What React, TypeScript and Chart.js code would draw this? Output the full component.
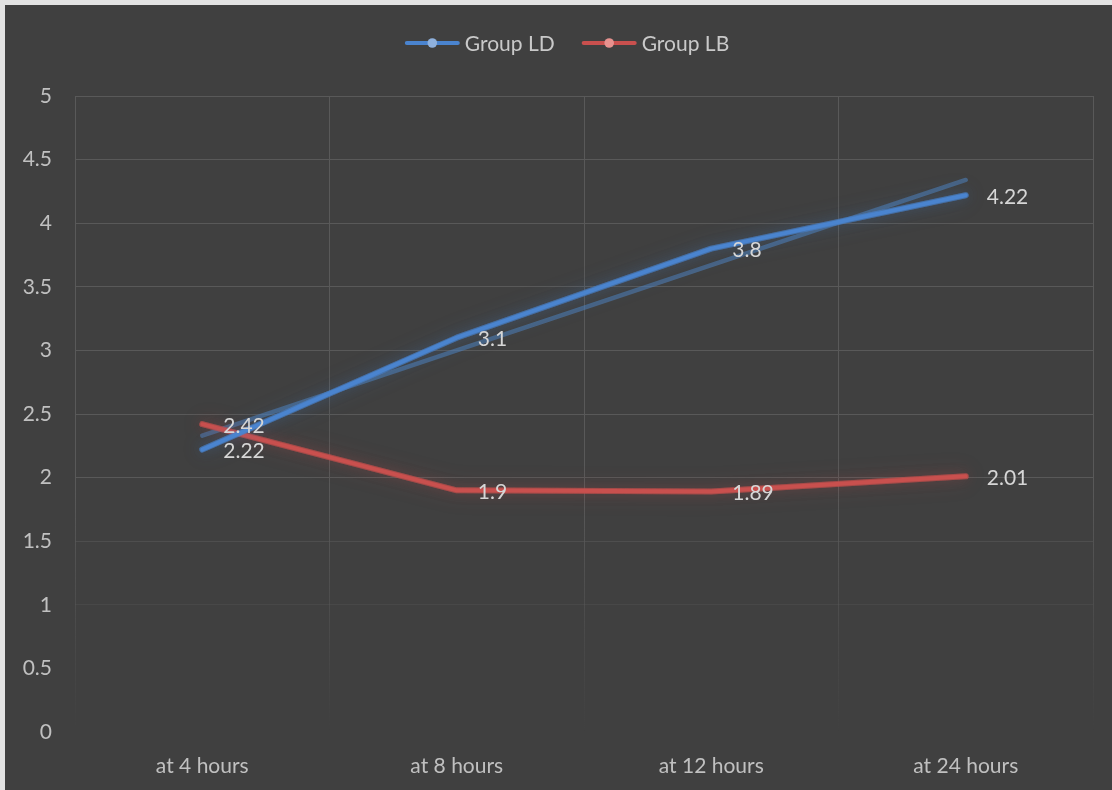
import React, { useEffect, useRef } from "react";
import { Chart, registerables } from "chart.js";

Chart.register(...registerables);

// Chart data
const categories = ["at 4 hours", "at 8 hours", "at 12 hours", "at 24 hours"];
const seriesNames = ["Group LD", "Group LB"];
const groupLD = [2.22, 3.1, 3.8, 4.22];
const groupLB = [2.42, 1.9, 1.89, 2.01];
const yTicks = [0, 0.5, 1, 1.5, 2, 2.5, 3, 3.5, 4, 4.5, 5];

// Least-squares linear trendline over the category positions 1..n
function linearTrend(values: number[]): number[] {
  const n = values.length;
  const xs = values.map((_, i) => i + 1);
  const mx = xs.reduce((a, b) => a + b, 0) / n;
  const my = values.reduce((a, b) => a + b, 0) / n;
  let sxy = 0;
  let sxx = 0;
  xs.forEach((x, i) => {
    sxy += (x - mx) * (values[i] - my);
    sxx += (x - mx) * (x - mx);
  });
  const slope = sxy / sxx;
  const icpt = my - slope * mx;
  return xs.map((x) => icpt + slope * x);
}

const FONT = "Lato, 'Open Sans', sans-serif";
const FONT_SIZE = 21;
const BG = "#404040";
const GRID = "#595959";
const BLUE = "#4a84cf";
const RED = "#c9504e";
const BLUE_MARK = "#8fb1dd";
const RED_MARK = "#e7928f";

const W = 1107;
const H = 785;

// Soft glow under the main series: the line path is stroked with a wide
// shadow before Chart.js draws the line itself.
const glowPlugin = {
  id: "glow",
  beforeDatasetDraw(chart: any, args: any) {
    const ds = chart.data.datasets[args.index];
    if (!ds.glowColor) return;
    const pts = chart.getDatasetMeta(args.index).data;
    const ctx = chart.ctx;
    ctx.save();
    ctx.shadowColor = ds.glowColor;
    ctx.strokeStyle = ds.glowColor;
    ctx.lineWidth = 6;
    ctx.lineCap = "round";
    ctx.lineJoin = "round";
    [22, 12].forEach((blur) => {
      ctx.shadowBlur = blur;
      ctx.beginPath();
      pts.forEach((p: any, i: number) => (i ? ctx.lineTo(p.x, p.y) : ctx.moveTo(p.x, p.y)));
      ctx.stroke();
    });
    ctx.restore();
  },
};

// Value labels to the right of each point
const valueLabelPlugin = {
  id: "valueLabels",
  afterDatasetsDraw(chart: any) {
    const ctx = chart.ctx;
    ctx.save();
    ctx.font = `${FONT_SIZE}px ${FONT}`;
    ctx.fillStyle = "#d6d6d6";
    ctx.textAlign = "left";
    ctx.textBaseline = "middle";
    chart.data.datasets.forEach((ds: any, di: number) => {
      if (!ds.showValues) return;
      const meta = chart.getDatasetMeta(di);
      meta.data.forEach((pt: any, i: number) => {
        ctx.fillText(String(ds.data[i]), pt.x + 21, pt.y + 2);
      });
    });
    ctx.restore();
  },
};

// Legend with line + marker symbols, centred above the plot
const legendPlugin = {
  id: "lineLegend",
  afterDraw(chart: any) {
    const ctx = chart.ctx;
    ctx.save();
    ctx.font = `${FONT_SIZE}px ${FONT}`;
    const items = [
      { label: seriesNames[0], color: BLUE, mark: BLUE_MARK },
      { label: seriesNames[1], color: RED, mark: RED_MARK },
    ];
    const lineLen = 55;
    const gap = 5;
    const spacing = 27;
    const widths = items.map((it) => lineLen + gap + ctx.measureText(it.label).width);
    const total = widths.reduce((a, b) => a + b, 0) + spacing * (items.length - 1);
    let x = 562 - total / 2;
    const y = 38;
    items.forEach((it, i) => {
      ctx.strokeStyle = it.color;
      ctx.lineWidth = 4;
      ctx.lineCap = "round";
      ctx.beginPath();
      ctx.moveTo(x + 2, y);
      ctx.lineTo(x + lineLen - 2, y);
      ctx.stroke();
      ctx.fillStyle = it.mark;
      ctx.beginPath();
      ctx.arc(x + lineLen / 2, y, 4.8, 0, Math.PI * 2);
      ctx.fill();
      ctx.fillStyle = "#c9c9c9";
      ctx.textAlign = "left";
      ctx.textBaseline = "middle";
      ctx.fillText(it.label, x + lineLen + gap, y + 1);
      x += widths[i] + spacing;
    });
    ctx.restore();
  },
};

// Vertical grid lines fade out towards the bottom of the plot
function xGridColor(c: any) {
  const area = c.chart.chartArea;
  if (!area) return GRID;
  const g = c.chart.ctx.createLinearGradient(0, area.top, 0, area.bottom);
  g.addColorStop(0, GRID);
  g.addColorStop(0.62, GRID);
  g.addColorStop(0.86, "rgba(89,89,89,0.35)");
  g.addColorStop(1, "rgba(89,89,89,0)");
  return g;
}

function yGridColor(c: any) {
  const v = c.tick ? c.tick.value : 5;
  if (v <= 0.5) return "rgba(89,89,89,0)";
  if (v <= 1) return "rgba(89,89,89,0.35)";
  if (v <= 1.5) return "rgba(89,89,89,0.55)";
  return GRID;
}

export default function App() {
  const canvasRef = useRef<HTMLCanvasElement | null>(null);

  useEffect(() => {
    if (!canvasRef.current) return;
    const chart = new Chart(canvasRef.current, {
      type: "line",
      data: {
        labels: categories,
        datasets: [
          {
            label: seriesNames[0],
            data: groupLD,
            borderColor: BLUE,
            borderWidth: 4,
            pointRadius: 0,
            tension: 0,
            borderCapStyle: "round",
            borderJoinStyle: "round",
            order: 1,
            glowColor: "rgba(74,130,204,0.45)",
            showValues: true,
          } as any,
          {
            label: seriesNames[1],
            data: groupLB,
            borderColor: RED,
            borderWidth: 4,
            pointRadius: 0,
            tension: 0,
            borderCapStyle: "round",
            borderJoinStyle: "round",
            order: 2,
            glowColor: "rgba(201,80,78,0.45)",
            showValues: true,
          } as any,
          {
            label: "Linear (" + seriesNames[0] + ")",
            data: linearTrend(groupLD),
            borderColor: "rgba(79,129,189,0.55)",
            borderWidth: 4.5,
            pointRadius: 0,
            tension: 0,
            borderCapStyle: "round",
            order: 3,
          } as any,
        ],
      },
      options: {
        responsive: false,
        animation: false,
        layout: { padding: { top: 91, right: 19, left: 0, bottom: 0 } },
        plugins: {
          legend: { display: false },
          tooltip: { enabled: false },
          title: { display: false },
        },
        scales: {
          x: {
            offset: true,
            grid: { offset: true, color: xGridColor as any, lineWidth: 1, drawTicks: false },
            border: { display: false },
            ticks: {
              color: "#c0c0c0",
              font: { family: FONT, size: FONT_SIZE },
              padding: 22,
              maxRotation: 0,
            },
            afterFit(scale: any) {
              scale.height = 58;
            },
          },
          y: {
            min: 0,
            max: 5,
            afterBuildTicks(scale: any) {
              scale.ticks = yTicks.map((v) => ({ value: v }));
            },
            grid: { color: yGridColor as any, lineWidth: 1, drawTicks: false },
            border: { display: false },
            ticks: {
              color: "#c0c0c0",
              font: { family: FONT, size: FONT_SIZE },
              padding: 23,
              callback: (v: any) => String(v),
            },
            afterFit(scale: any) {
              scale.width = 70;
            },
          },
        },
      },
      plugins: [glowPlugin, valueLabelPlugin, legendPlugin],
    });
    return () => chart.destroy();
  }, []);

  return (
    <div
      style={{
        position: "fixed",
        left: 0,
        top: 0,
        width: 1112,
        height: 790,
        background: "#e3e3e3",
        overflow: "hidden",
      }}
    >
      <div style={{ position: "absolute", left: 5, top: 5, width: W, height: H, background: BG }}>
        <canvas ref={canvasRef} width={W} height={H} style={{ display: "block" }} />
      </div>
    </div>
  );
}
